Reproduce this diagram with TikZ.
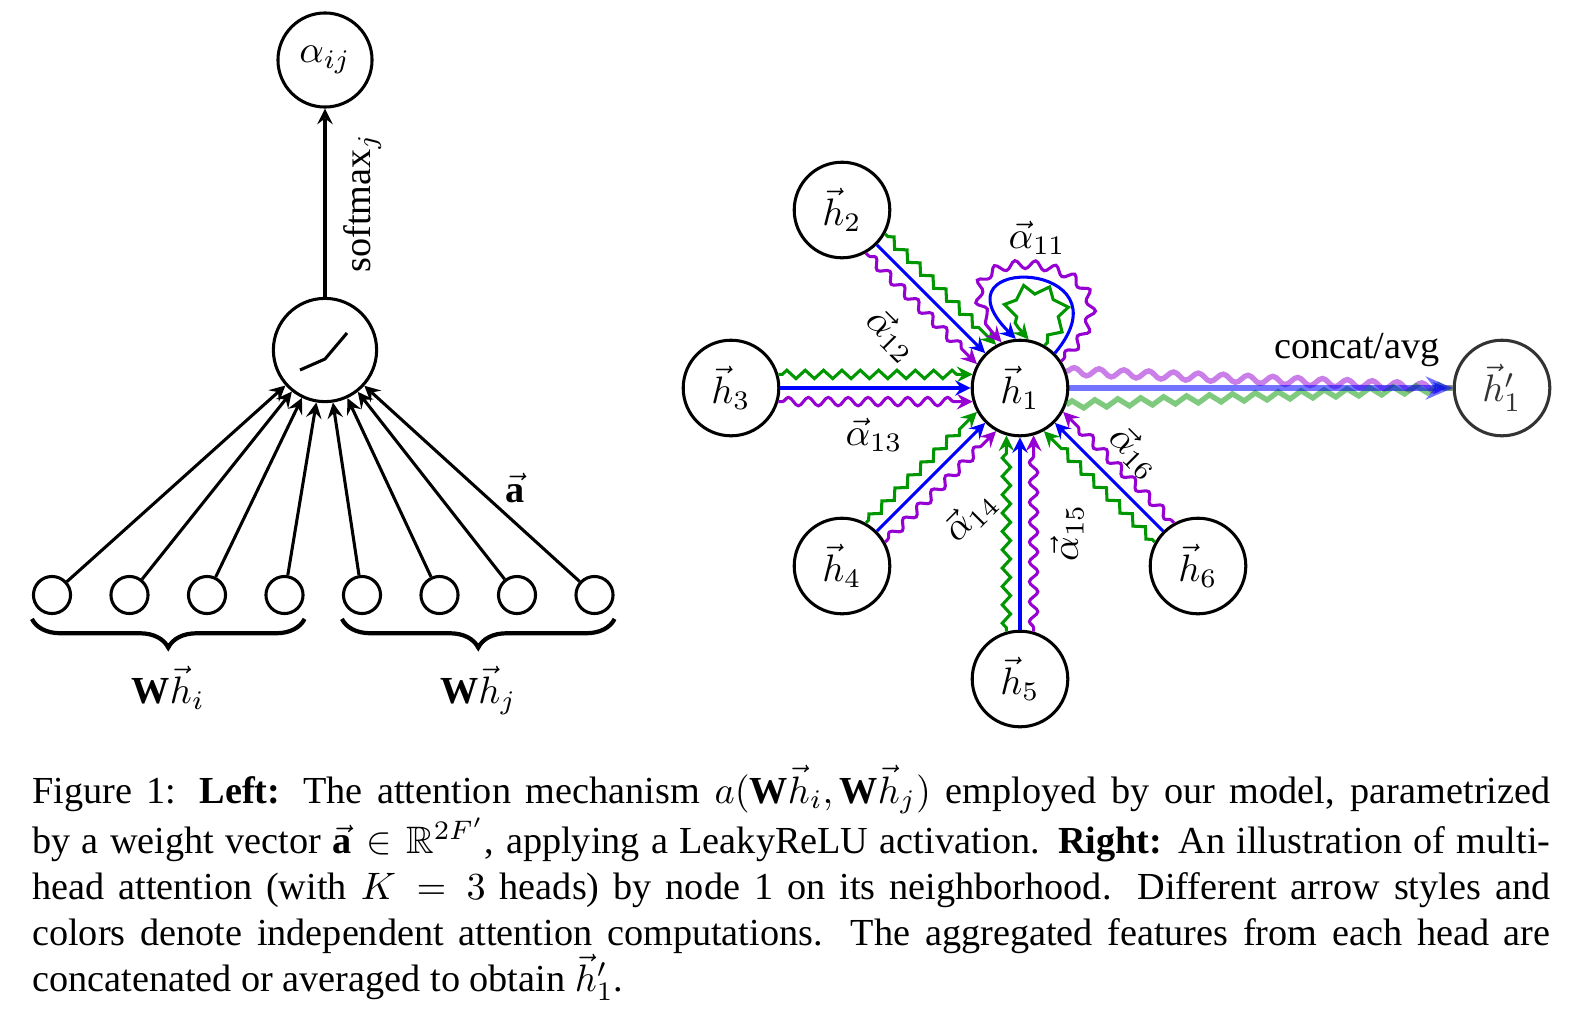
\documentclass[tikz,border=0pt]{standalone}
\usepackage{amsmath,amssymb}
\usepackage{fontspec}
\setmainfont{Liberation Serif}
\usetikzlibrary{arrows.meta,calc,decorations.pathmorphing,decorations.pathreplacing}
\definecolor{headgreen}{RGB}{0,150,0}
\definecolor{headpurple}{RGB}{150,0,210}
\tikzset{
  unit/.style={circle, draw, thick, minimum size=25pt, inner sep=0pt},
  neuron/.style={circle, draw, thick, minimum size=9.7pt, inner sep=0pt},
  headblue/.style={blue, thick},
  zig/.style={headgreen, thick, decorate, decoration={zigzag, amplitude=1.1pt, segment length=4.8pt, pre length=1pt, post length=4pt}},
  wave/.style={headpurple, thick, decorate, decoration={snake, amplitude=1.1pt, segment length=5.2pt, pre length=1pt, post length=4pt}},
}
\begin{document}
\begin{tikzpicture}[x=0.2615pt, y=-0.2615pt, >=stealth]
\useasboundingbox (0,0) rectangle (1594,1020);
% left: the attention mechanism
\node[unit, minimum size=24.6pt] (alpha) at (325,60) {$\alpha_{ij}$};
\node[unit, minimum size=27pt] (act) at (325,350) {};
\draw[thick] (act) ++(-25,20) -- ++(25,-11) -- ++(22,-26);
\draw[->, thick] (act) -- node[sloped, below=1pt] (smax) {softmax$_j$} (alpha);
\foreach \i in {1,...,8}{
  \node[neuron] (w\i) at ({52+77.5*(\i-1)},595) {};
  \draw[->, thick] (w\i) -- (act);
}
\draw[line width=1.1pt, decorate, decoration={brace, mirror, amplitude=7.5pt}]
  ([yshift=-1pt]w1.south -| w1.west) -- ([yshift=-1pt]w4.south -| w4.east)
  node[midway, below=8.5pt] (whi) {$\mathbf{W}\vec{h}_i$};
\draw[line width=1.1pt, decorate, decoration={brace, mirror, amplitude=7.5pt}]
  ([yshift=-1pt]w5.south -| w5.west) -- ([yshift=-1pt]w8.south -| w8.east)
  node[midway, below=8.5pt] (whj) {$\mathbf{W}\vec{h}_j$};
\node (avec) at (515,488) {$\vec{\mathbf{a}}$};
% right: multi-head attention
\node[unit] (h1) at (1020,388) {$\vec{h}_1$};
\node[unit] (h2) at (842,210) {$\vec{h}_2$};
\node[unit] (h3) at (731,388) {$\vec{h}_3$};
\node[unit] (h4) at (842,566) {$\vec{h}_4$};
\node[unit] (h5) at (1020,679) {$\vec{h}_5$};
\node[unit] (h6) at (1198,566) {$\vec{h}_6$};
\node[unit, draw=black!80, text=black!80] (h1p) at (1502,388) {$\vec{h}'_1$};
\foreach \n/\a [evaluate=\a as \al using {int(mod(\a+16,360))},
    evaluate=\a as \ar using {int(mod(\a+344,360))},
    evaluate=\a as \b using {int(mod(\a+180,360))},
    evaluate=\a as \bl using {int(mod(\a+164,360))},
    evaluate=\a as \br using {int(mod(\a+196,360))}]
    in {2/315, 3/0, 4/45, 5/90, 6/135}{
  \draw[headblue, ->] (h\n.\a) -- (h1.\b);
  \draw[zig, ->] (h\n.\al) -- (h1.\bl);
  \draw[wave, ->] (h\n.\ar) -- (h1.\br);
}
% self attention
\draw[wave, ->] (h1.33) .. controls +(45:41pt) and +(135:41pt) .. (h1.112);
\draw[headblue, ->] (h1.45) .. controls +(50:32pt) and +(135:32pt) .. (h1.95);
\draw[zig, ->, decoration={amplitude=1.3pt, segment length=6pt}] (h1.60) .. controls +(45:26pt) and +(135:26pt) .. (h1.80);
\node (a11) at (1037,238) {$\vec{\alpha}_{11}$};
\node[rotate=-45] (a12) at (892,335) {$\vec{\alpha}_{12}$};
\node (a13) at (874,435) {$\vec{\alpha}_{13}$};
\node[rotate=45] (a14) at (970,516) {$\vec{\alpha}_{14}$};
\node[rotate=90] (a15) at (1067,533) {$\vec{\alpha}_{15}$};
\node[rotate=-45] (a16) at (1135,452) {$\vec{\alpha}_{16}$};
% aggregation
\draw[headpurple, line width=1.4pt, opacity=0.5, decorate,
  decoration={snake, amplitude=1pt, segment length=6.5pt}] (h1.20) -- (h1p.west);
\draw[headgreen, line width=1.4pt, opacity=0.5, decorate,
  decoration={zigzag, amplitude=1pt, segment length=6pt}] (h1.340) -- (h1p.west);
\draw[blue, line width=1.4pt, opacity=0.55, -{Stealth[length=7pt, width=6pt]}] (h1.east) -- (h1p.west);
\node[above=2pt] (cat) at ($(h1.east)!0.75!(h1p.west)$) {concat/avg};
% caption
\node[anchor=base west, text width=397pt, align=justify, inner sep=0pt] (cap) at (31.5,803)
  {Figure 1: \textbf{Left:} The attention mechanism $a(\mathbf{W}\vec{h}_i, \mathbf{W}\vec{h}_j)$ employed by our model, parametrized\linebreak
  by a weight vector $\vec{\mathbf{a}}\in\mathbb{R}^{2F'}$, applying a LeakyReLU activation. \textbf{Right:} An illustration of multi-\linebreak
  head attention (with $K=3$ heads) by node 1 on its neighborhood. Different arrow styles and\linebreak
  colors denote independent attention computations. The aggregated features from each head are\linebreak
  concatenated or averaged to obtain $\vec{h}'_1$.};
\end{tikzpicture}
\end{document}
